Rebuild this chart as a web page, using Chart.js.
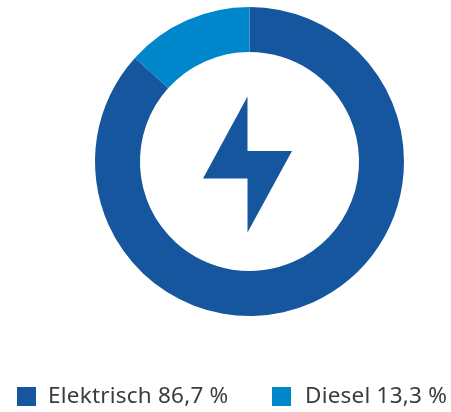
<!DOCTYPE html>
<html><head><meta charset="utf-8">
<script src="https://cdn.jsdelivr.net/npm/chart.js@4"></script>
<style>
html,body{margin:0;padding:0;background:#fff;width:451px;height:412px;overflow:hidden}
#wrap{position:absolute;left:0;top:0;width:451px;height:412px}
.it{position:absolute;top:380px;height:30px;font:22.5px/30px "Noto Sans";letter-spacing:0.22px;color:#3c3c3b;white-space:nowrap}
.sw{position:absolute;top:387px;width:19px;height:19px}
</style></head><body>
<div id="wrap"><canvas id="c" width="451" height="412"></canvas></div>
<script>
const categories = ["Elektrisch", "Diesel"];
const shares = [86.7, 13.3];
const shareLabels = ["86,7 %", "13,3 %"];
const colors = ["#15569f", "#0086cb"];
const swatchX = [17, 272];
const textX = [48, 305];

const bolt = {
  id: "bolt",
  afterDraw(chart) {
    const a = chart.getDatasetMeta(0).data[0];
    const ctx = chart.ctx, x = a.x, y = a.y;
    ctx.save();
    ctx.fillStyle = colors[0];
    ctx.beginPath();
    ctx.moveTo(x - 2, y - 65);
    ctx.lineTo(x - 2, y - 10.5);
    ctx.lineTo(x + 42.5, y - 10.5);
    ctx.lineTo(x - 2, y + 71);
    ctx.lineTo(x - 2, y + 17);
    ctx.lineTo(x - 46.5, y + 17);
    ctx.closePath();
    ctx.fill();
    ctx.restore();
  }
};

new Chart(document.getElementById("c"), {
  type: "doughnut",
  data: { labels: categories, datasets: [{ data: shares, backgroundColor: colors, borderWidth: 0 }] },
  options: {
    responsive: false, animation: false, cutout: "70.9%",
    layout: { padding: { left: 48, top: 7, right: 0, bottom: 96 } },
    plugins: { legend: { display: false }, tooltip: { enabled: false } }
  },
  plugins: [bolt]
});

const wrap = document.getElementById("wrap");
categories.forEach((n, i) => {
  const s = document.createElement("div");
  s.className = "sw"; s.style.left = swatchX[i] + "px"; s.style.background = colors[i];
  const t = document.createElement("div");
  t.className = "it"; t.style.left = textX[i] + "px"; t.textContent = n + " " + shareLabels[i];
  wrap.append(s, t);
});
</script>
</body></html>
